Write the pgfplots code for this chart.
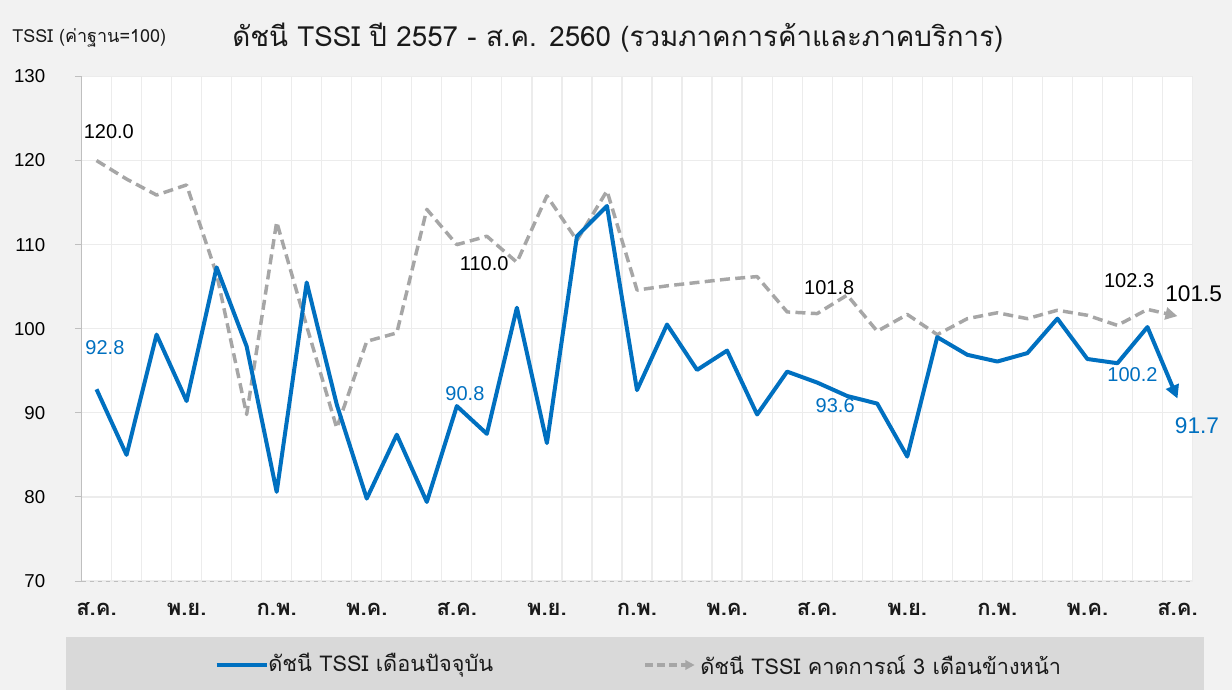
\documentclass[border=0pt]{standalone}
\usepackage{pgfplots}
\pgfplotsset{compat=1.18}
\usepackage{pgfplotstable}
\usepackage{fontspec}
\usetikzlibrary{arrows.meta}
\setmainfont{Liberation Sans}
\newfontfamily\thaifont[Script=Thai]{Loma}
\definecolor{bg}{HTML}{F2F2F2}
\definecolor{legbg}{HTML}{D9D9D9}
\definecolor{tblue}{HTML}{0070C0}
\definecolor{tgrey}{HTML}{A6A6A6}
\definecolor{gridc}{HTML}{ECECEC}
\definecolor{axc}{HTML}{BFBFBF}
\definecolor{txt}{HTML}{1A1A1A}

\pgfplotstableread{
x cur exp
0 92.8 120.0
1 85.0 117.8
2 99.3 115.9
3 91.4 117.1
4 107.3 106.5
5 97.9 89.8
6 80.6 112.7
7 105.5 100.3
8 91.0 88.2
9 79.8 98.5
10 87.4 99.5
11 79.4 114.2
12 90.8 110.0
13 87.5 111.0
14 102.5 107.9
15 86.4 115.8
16 111.0 110.5
17 114.6 116.4
18 92.7 104.6
19 100.5 105.1
20 95.1 105.5
21 97.4 105.9
22 89.8 106.2
23 94.9 102.0
24 93.6 101.8
25 92.0 104.0
26 91.1 99.7
27 84.8 101.7
28 99.0 99.3
29 96.9 101.2
30 96.1 101.9
31 97.1 101.2
32 101.2 102.2
33 96.4 101.6
34 95.9 100.4
35 100.2 102.3
36 91.7 101.5
}\tssi

\begin{document}
\begin{tikzpicture}
\fill[bg] (0,0) rectangle (924pt,517.5pt);
\useasboundingbox (0,0) rectangle (924pt,517.5pt);
\begin{axis}[
  at={(61.125pt,81.75pt)}, anchor=south west,
  scale only axis, width=833.25pt, height=378.4pt,
  xmin=-0.5, xmax=36.5, ymin=70, ymax=130,
  axis background/.style={fill=white},
  xtick={0,3,...,36},
  xticklabels={ส.ค.,พ.ย.,ก.พ.,พ.ค.,ส.ค.,พ.ย.,ก.พ.,พ.ค.,ส.ค.,พ.ย.,ก.พ.,พ.ค.,ส.ค.},
  minor xtick={-0.5,0.5,...,36.5},
  ytick={70,80,...,130},
  xminorgrids, ymajorgrids,
  major grid style={gridc, line width=0.9pt},
  minor grid style={gridc, line width=0.9pt},
  axis x line*=bottom, axis y line*=left,
  axis line style={-},
  x axis line style={axc, dashed, line width=0.7pt},
  y axis line style={axc, line width=0.8pt},
  tick align=outside, major tick length=5pt, minor tick length=0pt,
  xtick style={draw=none},
  ytick style={axc, line width=0.7pt},
  /pgf/number format/assume math mode=true,
  yticklabel style={anchor=east, inner sep=0pt, xshift=-22pt, text=black, font=\fontsize{14}{15}\selectfont},
  xticklabel style={anchor=base, inner sep=0pt, yshift=-21pt, text=txt, font=\thaifont\bfseries\fontsize{16.5}{17}\selectfont},
  clip=false,
]
\addplot[tgrey, line width=2.6pt, dash pattern=on 7.5pt off 4pt, line join=round, -{Triangle[length=9pt,width=9pt]}] table[x=x,y=exp]{\tssi};
\addplot[tblue, line width=3pt, line join=round, -{Triangle[length=10pt,width=10pt]}] table[x=x,y=cur]{\tssi};
\begin{scope}[every node/.style={font=\fontsize{15}{16}\selectfont, inner sep=0pt}]
\node[text=black] at (axis cs:0.41,123.5) {120.0};
\node[text=tblue] at (axis cs:0.28,97.7) {92.8};
\node[text=black] at (axis cs:12.91,107.77) {110.0};
\node[text=tblue] at (axis cs:12.27,92.3) {90.8};
\node[text=black] at (axis cs:24.40,104.9) {101.8};
\node[text=tblue] at (axis cs:24.6,90.9) {93.6};
\node[text=black] at (axis cs:34.39,105.7) {102.3};
\node[text=tblue] at (axis cs:34.5,94.5) {100.2};
\node[text=black, font=\fontsize{17}{18}\selectfont] at (axis cs:36.54,104.2) {101.5};
\node[text=tblue, font=\fontsize{17}{18}\selectfont] at (axis cs:36.65,88.5) {91.7};
\end{scope}
\end{axis}
% top texts
\node[anchor=west, inner sep=0pt, text=txt] at (9pt,489pt) {\thaifont\fontsize{13.5}{14}\selectfont TSSI (ค่าฐาน=100)};
\node[anchor=west, inner sep=0pt, text=txt] at (174pt,489pt) {\thaifont\fontsize{20.8}{22}\selectfont ดัชนี TSSI ปี 2557 - ส.ค. 2560 (รวมภาคการค้าและภาคบริการ)};
% legend
\fill[legbg] (49.5pt,0pt) rectangle (903pt,39.75pt);
\draw[tblue, line width=3pt] (162.5pt,18.75pt) -- (200pt,18.75pt);
\node[anchor=west, inner sep=0pt, text=txt] at (201pt,18.75pt) {\thaifont\fontsize{16.3}{17}\selectfont ดัชนี TSSI เดือนปัจจุบัน};
\draw[tgrey, line width=2.6pt, dash pattern=on 6pt off 3pt, -{Triangle[length=7pt,width=7pt]}] (484pt,18.75pt) -- (521pt,18.75pt);
\node[anchor=west, inner sep=0pt, text=txt] at (525pt,18.75pt) {\thaifont\fontsize{16.3}{17}\selectfont ดัชนี TSSI คาดการณ์ 3 เดือนข้างหน้า};
\end{tikzpicture}
\end{document}
